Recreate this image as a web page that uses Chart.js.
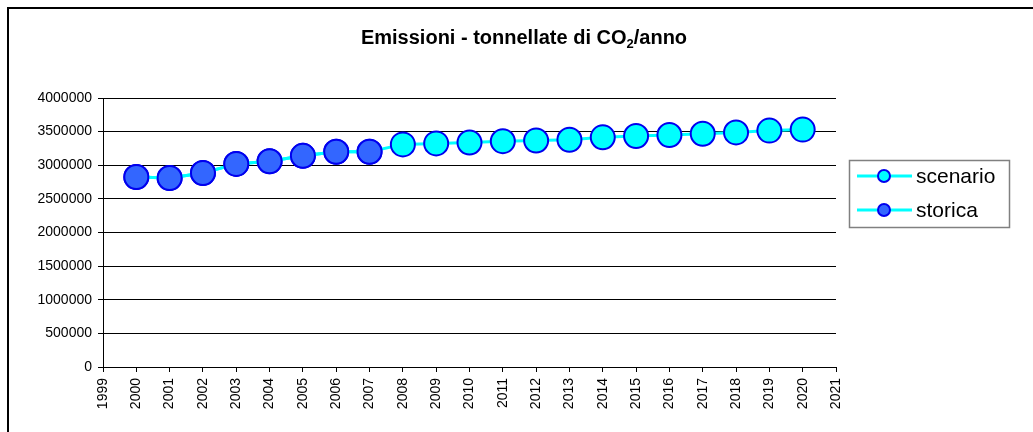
<!DOCTYPE html>
<html>
<head>
<meta charset="utf-8">
<script src="https://cdn.jsdelivr.net/npm/chart.js@4/dist/chart.umd.min.js"></script>
<style>
    html, body { margin: 0; padding: 0; background: #fff; }
    canvas { display: block; }
</style>
</head>
<body>
<canvas id="graficoEmissioni" width="1033" height="432"></canvas>
<script>
// anni e valori
const anniStorici = [2000, 2001, 2002, 2003, 2004, 2005, 2006, 2007];
const valoriStorici = [2825000, 2810000, 2885000, 3020000, 3060000, 3140000, 3200000, 3200000];
const anniScenario = [2008, 2009, 2010, 2011, 2012, 2013, 2014, 2015, 2016, 2017, 2018, 2019, 2020];
const valoriScenario = [3310000, 3325000, 3338000, 3358000, 3368000, 3380000, 3415000, 3435000, 3450000, 3468000, 3488000, 3515000, 3530000];
const nomiSerie = ["scenario", "storica"];
const annoMin = 1999;
const annoMax = 2021;
const valoreMax = 4000000;
const passoValori = 500000;

const FONT = "'Liberation Sans', Arial, sans-serif";

function punti(anni, valori) {
    return anni.map(function (anno, i) {
        return { x: anno, y: valori[i] };
    });
}

// la serie scenario parte dai dati storici (linea ciano continua)
const datiScenario = punti(anniStorici.concat(anniScenario), valoriStorici.concat(valoriScenario));
const datiStorici = punti(anniStorici, valoriStorici);

const cornice = {
    id: "cornice",
    afterDraw: function (chart) {
        const ctx = chart.ctx;
        ctx.save();
        ctx.strokeStyle = "#000";
        ctx.lineWidth = 2;
        ctx.beginPath();
        ctx.moveTo(8, 432);
        ctx.lineTo(8, 8);
        ctx.lineTo(1033, 8);
        ctx.stroke();

        // titolo con pedice
        ctx.fillStyle = "#000";
        ctx.textBaseline = "alphabetic";
        const parte1 = "Emissioni - tonnellate di CO";
        const pedice = "2";
        const parte2 = "/anno";
        ctx.font = "bold 20px " + FONT;
        const w1 = ctx.measureText(parte1).width;
        const w3 = ctx.measureText(parte2).width;
        ctx.font = "bold 13px " + FONT;
        const w2 = ctx.measureText(pedice).width;
        let x = 524 - (w1 + w2 + w3) / 2;
        const base = 44;
        ctx.font = "bold 20px " + FONT;
        ctx.textAlign = "left";
        ctx.fillText(parte1, x, base);
        x += w1;
        ctx.font = "bold 13px " + FONT;
        ctx.fillText(pedice, x, base + 4);
        x += w2;
        ctx.font = "bold 20px " + FONT;
        ctx.fillText(parte2, x, base);

        // legenda
        ctx.strokeStyle = "#808080";
        ctx.lineWidth = 1.5;
        ctx.strokeRect(849.5, 160.5, 160, 67);
        const righe = [176, 210];
        nomiSerie.forEach(function (nome, i) {
            const ds = chart.data.datasets.find(function (d) { return d.label === nome; });
            const y = righe[i];
            ctx.strokeStyle = ds.borderColor;
            ctx.lineWidth = 3;
            ctx.beginPath();
            ctx.moveTo(857, y);
            ctx.lineTo(912, y);
            ctx.stroke();
            ctx.beginPath();
            ctx.arc(884, y, 6, 0, Math.PI * 2);
            ctx.fillStyle = ds.pointBackgroundColor;
            ctx.fill();
            ctx.lineWidth = 2;
            ctx.strokeStyle = ds.pointBorderColor;
            ctx.stroke();
            ctx.fillStyle = "#000";
            ctx.font = "21px " + FONT;
            ctx.textBaseline = "middle";
            ctx.fillText(nome, 916, y + 1);
        });
        ctx.restore();
    }
};

new Chart(document.getElementById("graficoEmissioni"), {
    type: "line",
    data: {
        datasets: [{
            label: "storica",
            data: datiStorici,
            borderColor: "#00ffff",
            borderWidth: 3,
            pointBackgroundColor: "#3366ff",
            pointBorderColor: "#0000ee",
            pointBorderWidth: 2,
            pointRadius: 12,
            order: 1
        }, {
            label: "scenario",
            data: datiScenario,
            borderColor: "#00ffff",
            borderWidth: 3,
            pointBackgroundColor: "#00ffff",
            pointBorderColor: "#0000ee",
            pointBorderWidth: 2,
            pointRadius: 12,
            order: 2
        }]
    },
    options: {
        responsive: false,
        animation: false,
        layout: {
            padding: { top: 98, right: 197, left: 0, bottom: 0 }
        },
        plugins: {
            legend: { display: false },
            title: { display: false },
            tooltip: { enabled: false }
        },
        scales: {
            x: {
                type: "linear",
                min: annoMin,
                max: annoMax,
                afterFit: function (scale) { scale.height = 65; },
                ticks: {
                    stepSize: 1,
                    autoSkip: false,
                    minRotation: 90,
                    maxRotation: 90,
                    color: "#000",
                    font: { family: FONT, size: 14 },
                    padding: 6,
                    callback: function (v) { return String(v); }
                },
                grid: {
                    drawOnChartArea: false,
                    drawTicks: true,
                    tickLength: 5,
                    color: "#000"
                },
                border: { color: "#000", width: 1 }
            },
            y: {
                min: 0,
                max: valoreMax,
                afterFit: function (scale) { scale.width = 103; },
                ticks: {
                    stepSize: passoValori,
                    color: "#000",
                    font: { family: FONT, size: 14 },
                    padding: 6,
                    callback: function (v) { return String(v); }
                },
                grid: {
                    color: "#000",
                    lineWidth: 1,
                    tickLength: 5
                },
                border: { color: "#000", width: 1 }
            }
        }
    },
    plugins: [cornice]
});
</script>
</body>
</html>
